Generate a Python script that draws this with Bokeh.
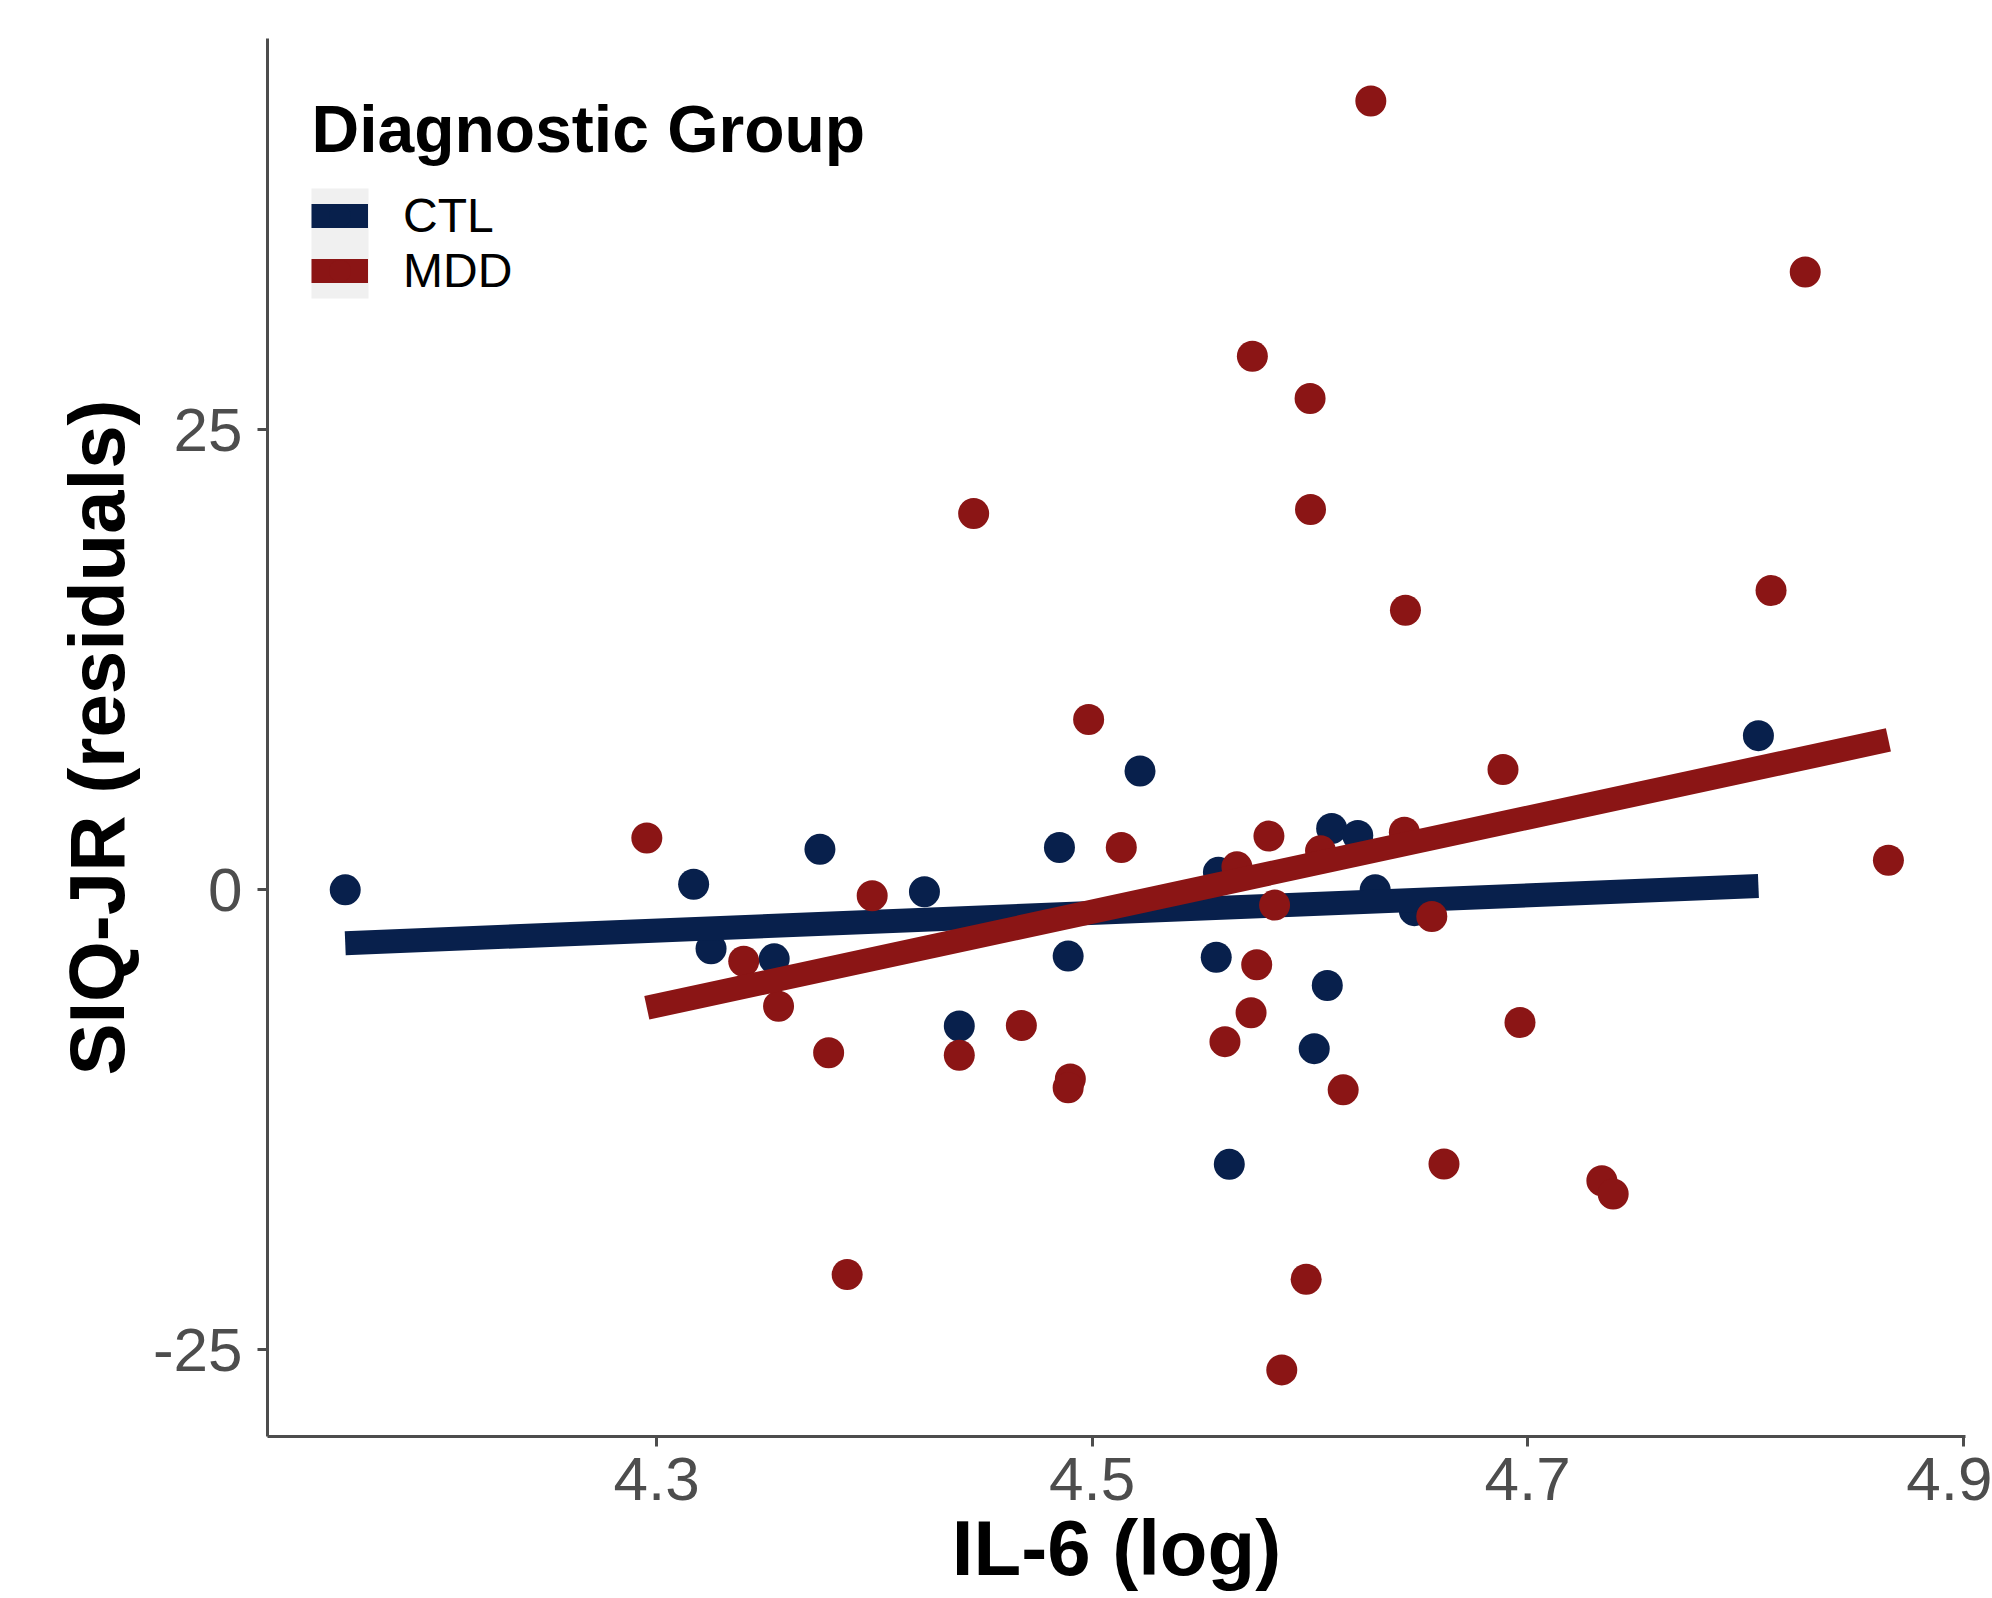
from bokeh.plotting import figure
from bokeh.models import Range1d, FixedTicker, Legend, LegendItem, Label, BoxAnnotation
from bokeh.embed import file_html
from bokeh.resources import INLINE

# ---- data ----
groups = ["CTL", "MDD"]

ctl_x = [4.157, 4.317, 4.325, 4.354, 4.375, 4.423, 4.439, 4.485, 4.489, 4.522,
         4.557, 4.558, 4.563, 4.602, 4.608, 4.610, 4.622, 4.630, 4.648, 4.806]
ctl_y = [0.0, 0.3, -3.2, -3.75, 2.2, -0.1, -7.4, 2.3, -3.6, 6.46,
         -3.66, 0.95, -14.92, -8.63, -5.2, 3.33, 2.95, 0.0, -1.13, 8.38]

mdd_x = [4.2955, 4.340, 4.356, 4.379, 4.3875, 4.399, 4.4456, 4.439, 4.4675, 4.490,
         4.489, 4.4984, 4.5134, 4.561, 4.5665, 4.5736, 4.573, 4.5756, 4.5812, 4.5838,
         4.5871, 4.5983, 4.6001, 4.6003, 4.6049, 4.6153, 4.628, 4.6434, 4.6439, 4.656,
         4.6616, 4.6887, 4.6965, 4.7341, 4.7393, 4.8118, 4.8275, 4.8657]
mdd_y = [2.82, -3.88, -6.33, -8.85, -20.91, -0.32, 20.45, -8.99, -7.37, -10.28,
         -10.76, 9.26, 2.30, -8.25, 1.25, 29.0, -6.68, -4.07, 2.92, -0.83,
         -26.09, -21.16, 26.70, 20.67, 2.12, -10.87, 42.87, 3.13, 15.20, -1.45,
         -14.9, 6.54, -7.21, -15.81, -16.53, 16.27, 33.58, 1.61]

# fitted (lm) lines, end points
ctl_fit_x = [4.157, 4.806]
ctl_fit_y = [-2.90, 0.21]
mdd_fit_x = [4.2955, 4.8657]
mdd_fit_y = [-6.41, 8.15]

x_ticks = [4.3, 4.5, 4.7, 4.9]
y_ticks = [-25, 0, 25]
y_tick_labels = {-25: "-25", 0: "0", 25: "25"}

NAVY = "#08204C"
RED = "#8B1515"
FONT = "Liberation Sans"

p = figure(width=1992, height=1598,
           x_range=Range1d(4.1213, 4.9011), y_range=Range1d(-29.71, 46.27),
           output_backend="svg", toolbar_location=None,
           min_border_left=267, min_border_right=27, min_border_top=38, min_border_bottom=162,
           background_fill_color="white", border_fill_color="white",
           outline_line_color=None)

p.grid.visible = False

for ax in (p.xaxis, p.yaxis):
    ax.axis_line_color = "#4D4D4D"
    ax.axis_line_width = 3
    ax.major_tick_line_color = "#4D4D4D"
    ax.major_tick_line_width = 3
    ax.major_tick_out = 10
    ax.major_tick_in = 0
    ax.minor_tick_line_color = None
    ax.major_label_text_font = FONT
    ax.major_label_text_font_size = "62px"
    ax.major_label_text_color = "#4D4D4D"
    ax.axis_label_text_font = FONT
    ax.axis_label_text_font_size = "78px"
    ax.axis_label_text_font_style = "bold"
    ax.axis_label_text_color = "black"

p.xaxis.ticker = FixedTicker(ticks=x_ticks)
p.yaxis.ticker = FixedTicker(ticks=y_ticks)
p.yaxis.major_label_overrides = y_tick_labels
p.xaxis.axis_label = "IL-6 (log)"
p.yaxis.axis_label = "SIQ-JR (residuals)"
p.xaxis.major_label_standoff = 11
p.xaxis.axis_label_standoff = 1
p.yaxis.major_label_standoff = 15
p.yaxis.axis_label_standoff = 9

# draw order: CTL points, CTL line, MDD points, MDD line
ctl_pts = p.scatter(ctl_x, ctl_y, size=31, fill_color=NAVY, line_color=None)
ctl_line = p.line(ctl_fit_x, ctl_fit_y, line_color=NAVY, line_width=24, line_cap="butt")
mdd_pts = p.scatter(mdd_x, mdd_y, size=31, fill_color=RED, line_color=None)
mdd_line = p.line(mdd_fit_x, mdd_fit_y, line_color=RED, line_width=24, line_cap="butt")

# legend key background
key_bg = BoxAnnotation(left=44, right=101, bottom=1138, top=1248,
                       left_units="screen", right_units="screen",
                       bottom_units="screen", top_units="screen",
                       fill_color="#F0F0F0", fill_alpha=1.0, line_color=None)
p.add_layout(key_bg)

legend = Legend(items=[LegendItem(label=groups[0], renderers=[ctl_line, ctl_pts]),
                       LegendItem(label=groups[1], renderers=[mdd_line, mdd_pts])],
                location=(44, 1138), padding=0, margin=0, spacing=0,
                glyph_width=57, glyph_height=55, label_standoff=35, label_height=55,
                label_text_font=FONT, label_text_font_size="48px", label_text_color="black",
                border_line_color=None, background_fill_alpha=0)
p.add_layout(legend)

title = Label(x=44, y=1308, x_units="screen", y_units="screen",
              text="Diagnostic Group", text_font=FONT, text_font_size="66px",
              text_font_style="bold", text_color="black", text_baseline="alphabetic")
p.add_layout(title)

open("out.html", "w").write(file_html(p, INLINE))
